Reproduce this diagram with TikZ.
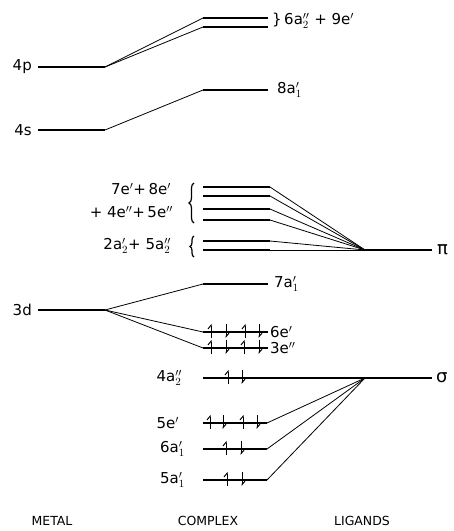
\documentclass[tikz,border=0pt]{standalone}
\usepackage{fontspec}
\setsansfont{DejaVu Sans}
\usepackage{tikz}
\usetikzlibrary{arrows.meta, positioning, calc, decorations.pathreplacing}

\begin{document}
\begin{tikzpicture}[x=1pt, y=-1pt, font=\sffamily\fontsize{15}{17}\selectfont,
  level/.style={line width=1.8pt},
  link/.style={line width=0.8pt},
  elec/.style={line width=1pt, -{Straight Barb[left,length=3.5pt,width=6pt]}},
  lab/.style={inner sep=1pt},
  title/.style={font=\sffamily\fontsize{12.5}{14}\selectfont}]
  \useasboundingbox (0,0) rectangle (454,531);

  % metal levels
  \coordinate (m4p-l) at (38,67);   \coordinate (m4p-r) at (105,67);
  \coordinate (m4s-l) at (38,130);  \coordinate (m4s-r) at (105,130);
  \coordinate (m3d-l) at (38,310);  \coordinate (m3d-r) at (105,310);
  \foreach \m in {m4p, m4s, m3d}
    \draw[level] (\m-l) -- (\m-r);
  \node[lab, left=5pt of m4p-l] (l4p) {4p};
  \node[lab, left=5pt of m4s-l] (l4s) {4s};
  \node[lab, left=5pt of m3d-l] (l3d) {3d};

  % ligand levels
  \coordinate (pi-l) at (365,250);  \coordinate (pi-r) at (432,250);
  \coordinate (sig-l) at (365,378); \coordinate (sig-r) at (432,378);
  \draw[level] (pi-l) -- (pi-r);
  \draw[level] (sig-l) -- (sig-r);
  \node[lab, right=4pt of pi-r, font=\sffamily\fontsize{18}{20}\selectfont] (lpi) {π};
  \node[lab, right=3pt of sig-r, font=\sffamily\fontsize{18}{20}\selectfont] (lsig) {σ};

  % complex levels, joined to metal or ligand
  \foreach \n/\y/\m in {ua/18/m4p, ub/27/m4p, sa/90/m4s, da/284/m3d, db/332/m3d, dc/348/m3d} {
    \coordinate (\n-l) at (203,\y); \coordinate (\n-r) at (268,\y);
    \draw[level] (\n-l) -- (\n-r);
    \draw[link] (\m-r) -- (\n-l);
  }
  \foreach \n/\y in {pa/187, pb/196, pc/209, pd/220, pe/241, pf/250} {
    \coordinate (\n-l) at (203,\y); \coordinate (\n-r) at (270,\y);
    \draw[level] (\n-l) -- (\n-r);
    \draw[link] (\n-r) -- (pi-l);
  }
  \foreach \n/\y in {sb/423, sc/449, sd/480} {
    \coordinate (\n-l) at (203,\y); \coordinate (\n-r) at (267,\y);
    \draw[level] (\n-l) -- (\n-r);
    \draw[link] (\n-r) -- (sig-l);
  }
  \coordinate (s4-l) at (203,378);
  \draw[level] (s4-l) -- (sig-l);

  % electrons
  \foreach \x/\y in {211/332, 245/332, 211/348, 244/348, 228/378, 210/423, 243/423, 226/449, 227/480}
    \draw[elec] (\x,\y+6) -- (\x,\y-8);
  \foreach \x/\y in {226/332, 259/332, 226/348, 259/348, 242/378, 223/423, 257/423, 241/449, 242/480}
    \draw[elec] (\x,\y-8) -- (\x,\y+6);

  % complex labels
  \node[lab, anchor=west] (lu) at (271,21) {\}\,6a$_2''$ + 9e$'$};
  \node[lab, right=8pt of sa-r] (lsa) {8a$_1'$};
  \node[lab, right=5pt of da-r] (lda) {7a$_1'$};
  \node[lab, right=1pt of db-r] (ldb) {6e$'$};
  \node[lab, right=1pt of dc-r] (ldc) {3e$''$};
  \node[lab, anchor=east] (lpa) at (172,189) {7e$'$+\,8e$'$};
  \node[lab, anchor=east] (lpb) at (174,212) {+ 4e$''$+\,5e$''$};
  \node[lab, anchor=east] (lpc) at (172,246) {2a$_2'$+ 5a$_2''$};
  \draw[link, line width=1.2pt, decorate, decoration={brace, amplitude=5pt}] (194,223) -- (194,183);
  \draw[link, line width=1.2pt, decorate, decoration={brace, amplitude=4pt}] (194,257) -- (194,236);
  \node[lab, anchor=east] (ls4) at (183,378) {4a$_2''$};
  \node[lab, anchor=east] (lsb) at (180,423) {5e$'$};
  \node[lab, anchor=east] (lsc) at (186,449) {6a$_1'$};
  \node[lab, anchor=east] (lsd) at (186,480) {5a$_1'$};

  % column titles
  \node[title] (metal) at (52,521) {METAL};
  \node[title] (complex) at (208,521) {COMPLEX};
  \node[title] (ligands) at (362,521) {LIGANDS};
\end{tikzpicture}
\end{document}
